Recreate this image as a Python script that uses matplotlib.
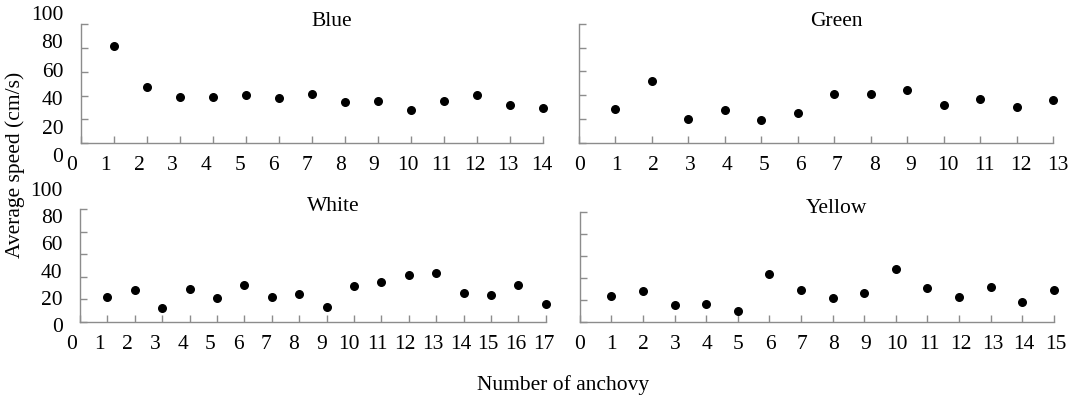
import matplotlib
matplotlib.use("Agg")
import matplotlib.pyplot as plt

plt.rcParams['font.family'] = ['Liberation Serif', 'DejaVu Serif']

W, H = 1074, 399

# average speed (cm/s) for each anchovy, per colour
blue = [81.4, 46.9, 39.2, 39.2, 40.3, 38.3, 41.4, 34.4, 35.3, 27.8, 35.6, 40.8, 32.5, 29.4]
green = [28.0, 52.2, 19.7, 27.2, 19.4, 25.0, 41.1, 41.1, 44.7, 31.7, 36.7, 30.0, 36.1]
white = [22.0, 28.2, 12.5, 28.8, 21.4, 32.3, 21.7, 24.9, 13.1, 31.8, 35.3, 41.2, 43.0,
         25.5, 24.0, 32.3, 15.4]
yellow = [24.1, 28.6, 15.7, 16.6, 10.2, 44.0, 28.9, 22.0, 26.5, 47.9, 30.7, 23.2, 31.9,
          18.1, 28.9]

titles = ["Blue", "Green", "White", "Yellow"]
series = [blue, green, white, yellow]
yticks = [0, 20, 40, 60, 80, 100]


def rect(x0, x1, ytop, ybot):
    return [x0 / W, 1 - ybot / H, (x1 - x0) / W, (ybot - ytop) / H]


fig = plt.figure(figsize=(W / 100, H / 100), dpi=100)

# main plot areas (pixels: left, right, top, bottom)
boxes = [(80.7, 543.3, 24, 143.3), (579, 1053, 24, 142.7),
         (80, 545.7, 209.3, 321.7), (579.7, 1053.7, 211.7, 322.3)]
# where the x tick labels sit (left, right)
xlab_spans = [(72, 541.7), (580, 1058), (71.7, 543.7), (579.5, 1056)]
# where the y tick labels sit (top, bottom) for left panels
ylab_spans = {0: (13, 155), 2: (189, 325)}

fs = 15.5
gray = "#8c8c8c"
for i in range(4):
    x0, x1, yt, yb = boxes[i]
    vals = series[i]
    n = len(vals)
    xs = list(range(1, n + 1))

    ax = fig.add_axes(rect(x0, x1, yt, yb))
    ax.scatter(xs, vals, s=30, color="black", zorder=3, clip_on=False)
    ax.set_xlim(0, n)
    ax.set_ylim(0, 100)
    ax.set_xticks(range(0, n + 1))
    ax.set_yticks(yticks)
    ax.set_xticklabels([])
    ax.set_yticklabels([])
    ax.tick_params(direction="in", length=5, width=1, color=gray)
    for s in ["top", "right"]:
        ax.spines[s].set_visible(False)
    for s in ["left", "bottom"]:
        ax.spines[s].set_color(gray)
        ax.spines[s].set_linewidth(1)
    ax.patch.set_alpha(0)

    # x tick labels
    lx0, lx1 = xlab_spans[i]
    lab = fig.add_axes(rect(lx0, lx1, yt, yb))
    lab.set_xlim(0, n)
    lab.set_xticks(range(0, n + 1))
    lab.set_xticklabels([str(k) for k in range(0, n + 1)], fontsize=fs)
    lab.tick_params(axis="x", length=0, pad=9.5)
    lab.set_yticks([])
    for s in lab.spines.values():
        s.set_visible(False)
    lab.patch.set_alpha(0)

    # y tick labels on the left panels
    if i in ylab_spans:
        ty, by = ylab_spans[i]
        ylab = fig.add_axes(rect(x0, x0 + 1, ty, by))
        ylab.set_ylim(0, 100)
        ylab.set_yticks(yticks)
        ylab.set_yticklabels([str(v) for v in yticks], fontsize=fs)
        ylab.tick_params(axis="y", length=0, pad=12.5)
        ylab.set_xticks([])
        for s in ylab.spines.values():
            s.set_visible(False)
        ylab.patch.set_alpha(0)

    fig.text(((x0 + x1) / 2 + 20) / W, 1 - (yt - 3) / H, titles[i],
             ha="center", va="center", fontsize=fs)

fig.text(15 / W, 1 - 165 / H, "Average speed (cm/s)", rotation=90,
         ha="center", va="center", fontsize=fs)
fig.text(563 / W, 1 - 385 / H, "Number of anchovy", ha="center", va="center",
         fontsize=fs)

fig.savefig("out.png", dpi=100)
